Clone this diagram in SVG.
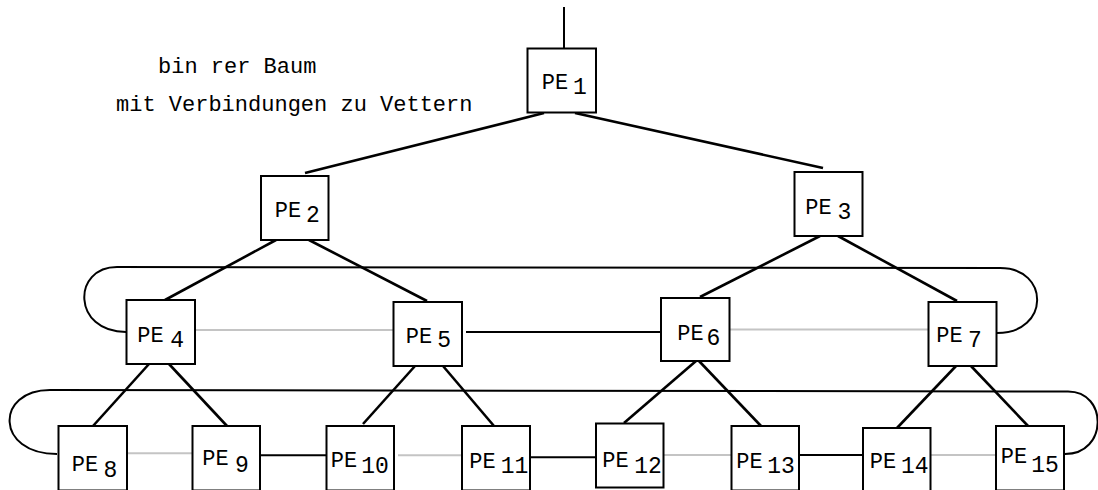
<svg xmlns="http://www.w3.org/2000/svg" width="1098" height="490" viewBox="0 0 1098 490">
  <style>
    .box { fill: #ffffff; stroke: #000000; stroke-width: 2; }
    .lbl { font-family: "Liberation Mono", "Courier New", monospace; font-size: 22px; fill: #000000; text-anchor: middle; }
    .sub { font-family: "Liberation Mono", "Courier New", monospace; font-size: 23px; fill: #000000; text-anchor: middle; }
    .title { font-family: "Liberation Mono", "Courier New", monospace; font-size: 22px; fill: #000000; }
    .tree { stroke: #000000; stroke-width: 2.6; fill: none; }
    .link { stroke: #000000; stroke-width: 2; fill: none; }
    .soft { stroke: #c4c4c4; stroke-width: 2; fill: none; }
  </style>

  <!-- heading -->
  <text class="title" x="158" y="73">bin rer Baum</text>
  <text class="title" x="116" y="110.5">mit Verbindungen zu Vettern</text>

  <g id="connectors">
    <!-- tree edges -->
    <line class="link" x1="564" y1="7" x2="564" y2="48"/>
    <line class="tree" x1="544" y1="113" x2="305" y2="173"/>
    <line class="tree" x1="575" y1="113" x2="823" y2="168"/>
    <line class="tree" x1="276" y1="240" x2="165" y2="300"/>
    <line class="tree" x1="309" y1="240" x2="427" y2="301"/>
    <line class="tree" x1="820" y1="236" x2="700" y2="297"/>
    <line class="tree" x1="838" y1="236" x2="957" y2="301"/>
    <line class="tree" x1="149" y1="364" x2="93" y2="426"/>
    <line class="tree" x1="169" y1="364" x2="227" y2="426"/>
    <line class="tree" x1="415" y1="366" x2="363" y2="424"/>
    <line class="tree" x1="443" y1="366" x2="494" y2="426"/>
    <line class="tree" x1="696" y1="361" x2="624" y2="423"/>
    <line class="tree" x1="699" y1="361" x2="761" y2="426"/>
    <line class="tree" x1="956" y1="366" x2="897" y2="428"/>
    <line class="tree" x1="971" y1="366" x2="1028" y2="426"/>

    <!-- cousin links, level 2 -->
    <path class="link" d="M126,332 C72,332 72,267 117,267 L1000,268 C1050,268 1050,333 997,333"/>
    <line class="soft" x1="195" y1="330" x2="393" y2="330"/>
    <line class="link" x1="466" y1="332" x2="661" y2="332"/>
    <line class="soft" x1="729" y1="329.5" x2="928" y2="329.5"/>

    <!-- cousin links, level 3 -->
    <path class="link" d="M57,454 C-5,454 -5,390 50,390 L1068,391.5 C1108,391.5 1108,454 1065,454"/>
    <line class="soft" x1="127" y1="453.3" x2="192" y2="453.3"/>
    <line class="link" x1="260" y1="455.3" x2="326" y2="455.3"/>
    <line class="soft" x1="398" y1="455.3" x2="461" y2="455.3"/>
    <line class="link" x1="530" y1="457.3" x2="596" y2="457.3"/>
    <line class="soft" x1="663" y1="455" x2="731" y2="455"/>
    <line class="link" x1="799" y1="455" x2="863" y2="455"/>
    <line class="soft" x1="931" y1="455" x2="996" y2="455"/>
  </g>

  <g id="pe1"><rect class="box" x="527.5" y="48.5" width="68.5" height="64"/>
    <text class="lbl" x="555" y="89.3">PE</text><text class="sub" x="580" y="94">1</text></g>
  <g id="pe2"><rect class="box" x="261" y="176" width="67.5" height="64"/>
    <text class="lbl" x="288" y="217.3">PE</text><text class="sub" x="313" y="221.7">2</text></g>
  <g id="pe3"><rect class="box" x="794.5" y="172" width="68" height="64"/>
    <text class="lbl" x="818.5" y="214.3">PE</text><text class="sub" x="844.3" y="219.3">3</text></g>
  <g id="pe4"><rect class="box" x="126.5" y="300" width="68.5" height="64"/>
    <text class="lbl" x="150.5" y="341.7">PE</text><text class="sub" x="177.2" y="347.3">4</text></g>
  <g id="pe5"><rect class="box" x="393.5" y="302" width="68.5" height="64"/>
    <text class="lbl" x="419" y="342.7">PE</text><text class="sub" x="444.2" y="347.3">5</text></g>
  <g id="pe6"><rect class="box" x="661" y="298" width="68.5" height="63"/>
    <text class="lbl" x="690.5" y="340">PE</text><text class="sub" x="713.3" y="345">6</text></g>
  <g id="pe7"><rect class="box" x="928.5" y="302" width="68" height="64"/>
    <text class="lbl" x="949.5" y="341.7">PE</text><text class="sub" x="975" y="347.3">7</text></g>

  <g id="pe8"><rect class="box" x="58.5" y="426" width="68.5" height="64.5"/>
    <text class="lbl" x="85" y="470.7">PE</text><text class="sub" x="110.5" y="476.7">8</text></g>
  <g id="pe9"><rect class="box" x="192.5" y="426" width="67.5" height="64.5"/>
    <text class="lbl" x="215.5" y="465">PE</text><text class="sub" x="242" y="471.7">9</text></g>
  <g id="pe10"><rect class="box" x="326.5" y="426" width="67.5" height="64.5"/>
    <text class="lbl" x="344" y="467.3">PE</text><text class="sub" x="375" y="473">10</text></g>
  <g id="pe11"><rect class="box" x="462" y="426" width="68" height="64.5"/>
    <text class="lbl" x="482.5" y="468">PE</text><text class="sub" x="514.5" y="473">11</text></g>
  <g id="pe12"><rect class="box" x="596" y="423.5" width="67.5" height="64"/>
    <text class="lbl" x="615.5" y="467">PE</text><text class="sub" x="648" y="473">12</text></g>
  <g id="pe13"><rect class="box" x="731.5" y="426" width="67.5" height="64.5"/>
    <text class="lbl" x="749.5" y="468">PE</text><text class="sub" x="781" y="472.7">13</text></g>
  <g id="pe14"><rect class="box" x="863" y="428" width="67.5" height="64"/>
    <text class="lbl" x="883" y="468">PE</text><text class="sub" x="914.7" y="472.7">14</text></g>
  <g id="pe15"><rect class="box" x="996" y="426" width="68" height="64.5"/>
    <text class="lbl" x="1014" y="463.3">PE</text><text class="sub" x="1045" y="471.7">15</text></g>
</svg>
